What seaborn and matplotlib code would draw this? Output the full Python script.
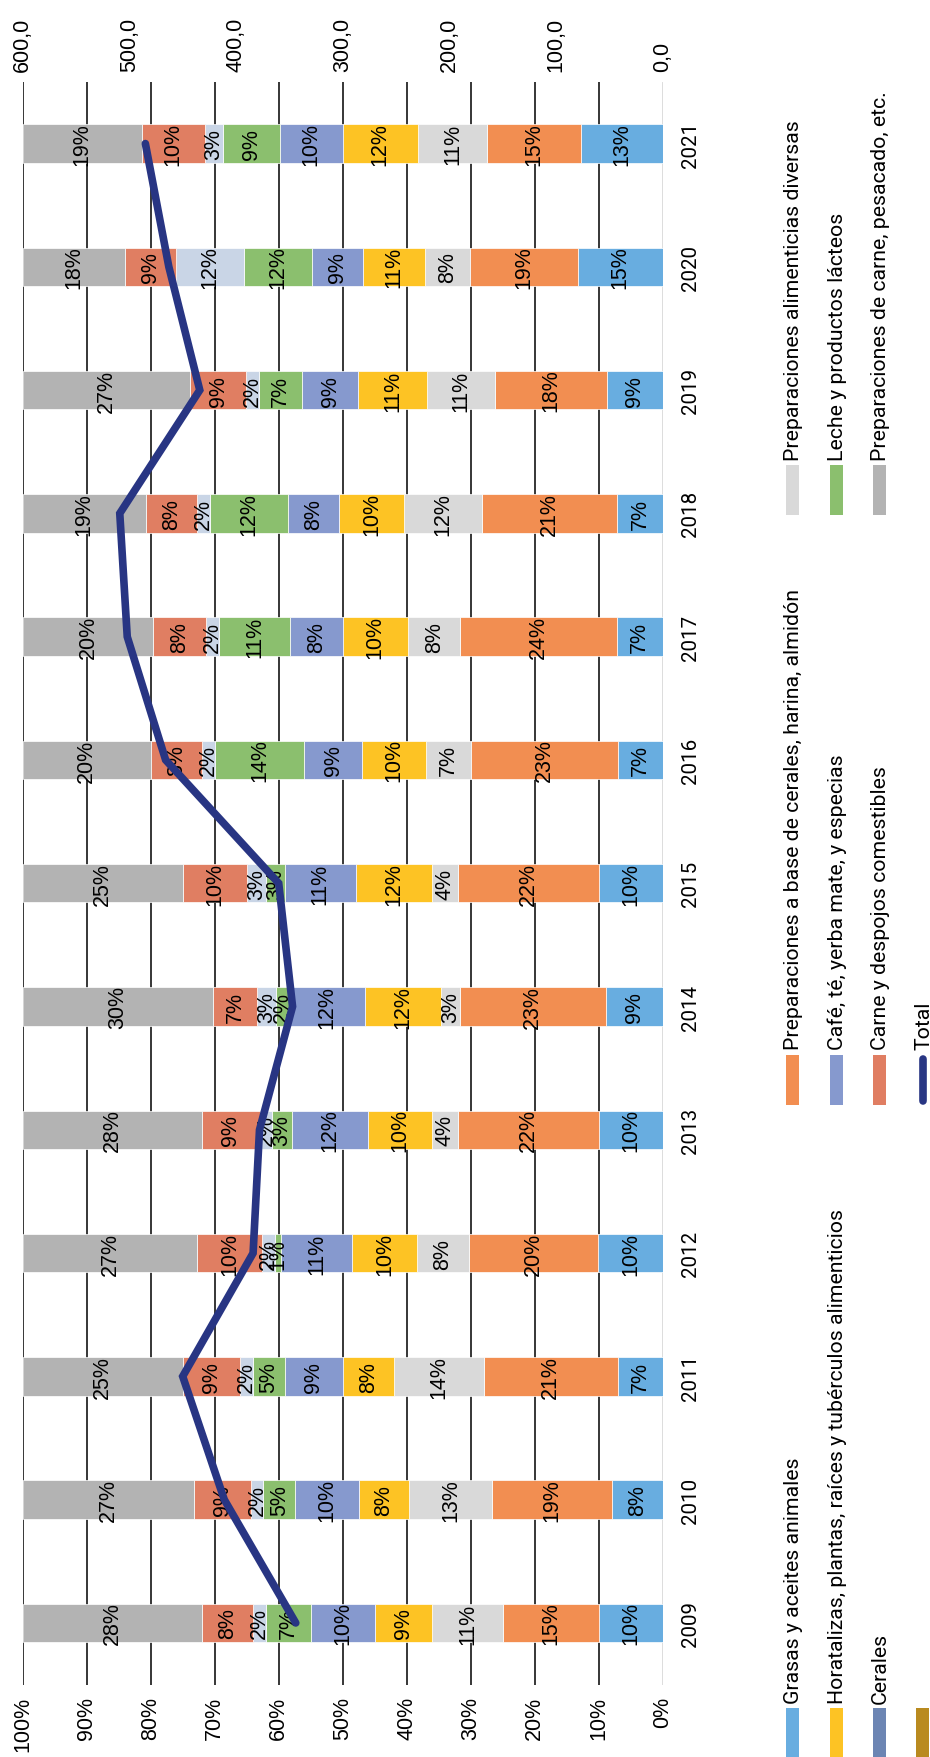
import numpy as np
import pandas as pd
import matplotlib
matplotlib.use("Agg")
import matplotlib.pyplot as plt
from matplotlib.patches import Rectangle
from matplotlib.lines import Line2D
import seaborn as sns

# ---- data -------------------------------------------------------------
years = [2009, 2010, 2011, 2012, 2013, 2014, 2015, 2016, 2017, 2018, 2019, 2020, 2021]

grasas = [10, 8, 7, 10, 10, 9, 10, 7, 7, 7, 9, 15, 13]
prep_cereales = [15, 19, 21, 20, 22, 23, 22, 23, 24, 21, 18, 19, 15]
prep_diversas = [11, 13, 14, 8, 4, 3, 4, 7, 8, 12, 11, 8, 11]
hortalizas = [9, 8, 8, 10, 10, 12, 12, 10, 10, 10, 11, 11, 12]
cafe = [10, 10, 9, 11, 12, 12, 11, 9, 8, 8, 9, 9, 10]
leche = [7, 5, 5, 1, 3, 2, 3, 14, 11, 12, 7, 12, 9]
cerales = [2, 2, 2, 2, 2, 3, 3, 2, 2, 2, 2, 12, 3]
carne = [8, 9, 9, 10, 9, 7, 10, 8, 8, 8, 9, 9, 10]
prep_carne = [28, 27, 25, 27, 28, 30, 25, 20, 20, 19, 27, 18, 19]

total = [344, 411, 450, 384, 378, 347, 360, 466, 502, 509, 434, 463, 485]

series_names = [
    "Grasas y aceites animales",
    "Preparaciones a base de cerales, harina, almidón",
    "Preparaciones alimenticias diversas",
    "Horatalizas, plantas, raíces y tubérculos alimenticios",
    "Café, té, yerba mate, y especias",
    "Leche y productos lácteos",
    "Cerales",
    "Carne y despojos comestibles",
    "Preparaciones de carne, pesacado, etc.",
]
series_values = [grasas, prep_cereales, prep_diversas, hortalizas, cafe,
                 leche, cerales, carne, prep_carne]
bar_colors = ["#68ADE0", "#F28E51", "#D9D9D9", "#FDC324", "#8699CE",
              "#8BBF6E", "#C9D5E6", "#E07E62", "#B3B3B3"]
legend_colors = ["#68ADE0", "#F28E51", "#D9D9D9", "#FDC324", "#8699CE",
                 "#8BBF6E", "#6C85B3", "#E07E62", "#B3B3B3"]
extra_key_color = "#B98A1F"
line_color = "#283583"

# ---- figure -----------------------------------------------------------
W, H = 930, 1758
sns.set_theme(style="white")
plt.rcParams["font.family"] = ["Liberation Sans", "DejaVu Sans"]
LEG_FONT = ["Roboto", "DejaVu Sans"]

fig = plt.figure(figsize=(W / 100, H / 100), dpi=100)
fig.patch.set_facecolor("white")

x0, x1 = 22.7, 662.7
y0, y1 = 82.9, 1685.6
ax = fig.add_axes([x0 / W, 1 - y1 / H, (x1 - x0) / W, (y1 - y0) / H])

order = [str(y) for y in years[::-1]]          # 2021 at the top
df = pd.DataFrame(dict(zip(series_names, series_values)),
                  index=[str(y) for y in years]).loc[order]
shares = df.div(df.sum(axis=1), axis=0) * 100

left = np.zeros(len(order))
for name, color in zip(series_names, bar_colors):
    sns.barplot(x=shares[name].values, y=order, order=order, orient="h",
                color=color, saturation=1, width=0.312, errorbar=None,
                left=left.copy(), edgecolor="white", linewidth=0.5, ax=ax)
    ax.bar_label(ax.containers[-1],
                 labels=[f"{v}%" for v in df[name].values],
                 label_type="center", rotation=90, fontsize=15.5,
                 color="black")
    left += shares[name].values

# percentage axis (bottom, 100 % on the left)
ax.set_xlim(100, 0)
ax.set_xticks(np.arange(0, 101, 10))
ax.set_xticklabels([f"{v}%" for v in range(0, 101, 10)], rotation=90,
                   fontsize=15.5)
ax.tick_params(axis="x", length=0, pad=8, colors="black")
ax.set_xlabel("")
ax.set_ylabel("")

# years on the right side
ax.yaxis.tick_right()
ax.set_yticks(np.arange(len(order)))
ax.set_yticklabels(order, rotation=90, va="center", ha="left",
                   fontsize=14.8, family=LEG_FONT)
ax.tick_params(axis="y", length=0, pad=13.5, colors="black")
ax.set_ylim(len(order) - 0.5, -0.5)

ax.set_axisbelow(True)
ax.grid(axis="x", color="black", linewidth=1.1)
ax.grid(axis="y", visible=False)
for gl, t in zip(ax.get_xgridlines(), ax.get_xticks()):
    if t == 0:
        gl.set_color("#D9D9D9")
        gl.set_linewidth(2)
for sp in ax.spines.values():
    sp.set_visible(False)

# total on a secondary axis (top, 600 on the left)
ax2 = ax.twiny()
sns.lineplot(x=total[::-1], y=np.arange(len(order)), sort=False, orient="y",
             estimator=None, color=line_color, linewidth=5.5,
             solid_capstyle="round", solid_joinstyle="miter", ax=ax2)
ax2.set_xlim(600, 0)
ax2.set_ylim(len(order) - 0.5, -0.5)
ax2.set_xticks(np.arange(0, 601, 100))
ax2.set_xticklabels([f"{v:.1f}".replace(".", ",") for v in range(0, 601, 100)],
                    rotation=90, fontsize=15.5)
ax2.tick_params(axis="x", length=0, pad=8, colors="black")
ax2.set_xlabel("")
ax2.set_ylabel("")
ax2.grid(False)
for sp in ax2.spines.values():
    sp.set_visible(False)

# ---- legend (rotated, drawn in figure pixels) --------------------------
def fx(px):
    return px / W


def fy(py):
    return 1 - py / H


row_x = [792.3, 836.3, 879.3, 922.8]
col_top = [1709.0, 1055.5, 466.0]
key_w, key_h = 13.3, 50.0
LEG_SIZE = 15.3

entries = []
for i, (name, color) in enumerate(zip(series_names, legend_colors)):
    entries.append((i // 3, i % 3, name, color))
entries.append((3, 0, "", extra_key_color))

for row, col, name, color in entries:
    cx, top = row_x[row], col_top[col]
    fig.patches.append(Rectangle((fx(cx - key_w / 2), fy(top + key_h)),
                                 key_w / W, key_h / H, transform=fig.transFigure,
                                 facecolor=color, edgecolor="none"))
    if name:
        fig.text(fx(cx + 0.8), fy(top - 5), name, rotation=90, ha="center",
                 va="bottom", fontsize=LEG_SIZE, family=LEG_FONT, color="black")

# line key for the total
cx, top = row_x[3], col_top[1]
fig.lines.append(Line2D([fx(cx), fx(cx)], [fy(top + 4), fy(top + key_h - 4)],
                        transform=fig.transFigure, color=line_color,
                        linewidth=5.5, solid_capstyle="round"))
fig.text(fx(cx + 0.8), fy(top - 5), "Total", rotation=90, ha="center",
         va="bottom", fontsize=LEG_SIZE, family=LEG_FONT, color="black")

fig.savefig("out.png", dpi=100, facecolor="white")
